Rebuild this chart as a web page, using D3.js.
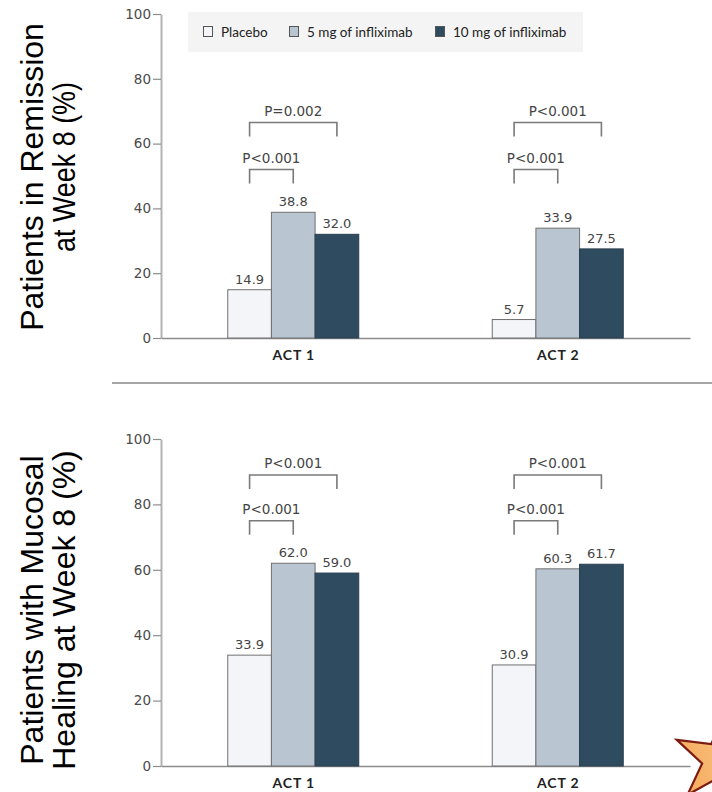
<!DOCTYPE html>
<html>
<head>
<meta charset="utf-8">
<script src="https://cdn.jsdelivr.net/npm/d3@7"></script>
<style>
  html, body { margin: 0; padding: 0; background: #fff; }
  svg { display: block; }
</style>
</head>
<body>
<svg id="chart" width="712" height="792"></svg>
<script>
// Infliximab ACT 1 / ACT 2 - remission and mucosal healing at week 8

const groups = ['ACT 1', 'ACT 2'];
const series = ['Placebo', '5 mg of infliximab', '10 mg of infliximab'];
const colors = ['#f3f5f8', '#b9c6d2', '#2f4b5f'];
const strokes = ['#707070', '#707070', '#2a3f4f'];
const yTicks = [0, 20, 40, 60, 80, 100];

// values per group: [placebo, 5 mg, 10 mg]
const remission = [[14.9, 38.8, 32.0], [5.7, 33.9, 27.5]];
const healing = [[33.9, 62.0, 59.0], [30.9, 60.3, 61.7]];

// p-values per group: [placebo vs 5 mg, placebo vs 10 mg]
const remissionP = [['P<0.001', 'P=0.002'], ['P<0.001', 'P<0.001']];
const healingP = [['P<0.001', 'P<0.001'], ['P<0.001', 'P<0.001']];

const svg = d3.select('#chart');

// layout per panel; titleLen squeezes a title line where the original was condensed
const panels = [
  { values: remission, pvals: remissionP, top: 14, bottom: 338, bracketAt: [52, 66.5],
    title: ['Patients in Remission', 'at Week 8 (%)'], titleY: [177, 167], titleLen: [null, 170] },
  { values: healing, pvals: healingP, top: 439, bottom: 766, bracketAt: [75, 89],
    title: ['Patients with Mucosal', 'Healing at Week 8 (%)'], titleY: [610, 610], titleLen: [null, null] }
];

const x0 = d3.scalePoint().domain(groups).range([161, 690]).padding(0.5);
const x1 = d3.scaleBand().domain(series).range([-65.5, 65.5]);
const barCenter = (g, s) => x0(g) + x1(s) + x1.bandwidth() / 2;

const tickFont = '"DejaVu Sans", Verdana, sans-serif';

panels.forEach(p => {
  const y = d3.scaleLinear().domain([0, 100]).range([p.bottom, p.top]);
  const g = svg.append('g');

  // y axis
  const ya = g.append('g').attr('transform', 'translate(161,0)')
    .call(d3.axisLeft(y).tickValues(yTicks).tickSize(8).tickSizeOuter(0).tickPadding(2));
  ya.select('.domain').attr('stroke', '#b3b3b3').attr('stroke-width', 2);
  ya.selectAll('.tick line').attr('stroke', '#8c8c8c').attr('stroke-width', 1.2);
  ya.selectAll('.tick text').attr('fill', '#4a4a4a').style('font-family', tickFont).style('font-size', '13.5px');

  // baseline + group labels
  const xa = g.append('g').attr('transform', `translate(0,${y(0)})`)
    .call(d3.axisBottom(x0).tickSize(0).tickPadding(12));
  xa.select('.domain').attr('stroke', '#8c8c8c').attr('stroke-width', 1.5);
  xa.selectAll('.tick text').attr('fill', '#222')
    .style('font-family', 'Lato, sans-serif').style('font-weight', 700)
    .style('font-size', '14px').style('letter-spacing', '0.9px');

  const rows = groups.map((grp, i) => ({ grp, vals: p.values[i], ps: p.pvals[i] }));

  const grpG = g.selectAll('g.grp').data(rows).join('g').attr('class', 'grp');

  grpG.selectAll('rect').data(d => d.vals.map((v, j) => ({ grp: d.grp, s: series[j], v, j })))
    .join('rect')
    .attr('x', d => x0(d.grp) + x1(d.s))
    .attr('y', d => y(d.v))
    .attr('width', x1.bandwidth())
    .attr('height', d => y(0) - y(d.v))
    .attr('fill', d => colors[d.j])
    .attr('stroke', d => strokes[d.j])
    .attr('stroke-width', 1);

  grpG.selectAll('text.val').data(d => d.vals.map((v, j) => ({ grp: d.grp, s: series[j], v })))
    .join('text').attr('class', 'val')
    .attr('x', d => barCenter(d.grp, d.s))
    .attr('y', d => y(d.v) - 6)
    .attr('text-anchor', 'middle')
    .attr('fill', '#444')
    .style('font-family', tickFont).style('font-size', '13px')
    .text(d => d.v.toFixed(1));

  // significance brackets: placebo vs 5 mg (lower), placebo vs 10 mg (upper)
  const brackets = [];
  rows.forEach(r => {
    r.ps.forEach((label, k) => {
      brackets.push({ x1: barCenter(r.grp, series[0]), x2: barCenter(r.grp, series[k + 1]),
        yv: p.bracketAt[k], label });
    });
  });
  const br = g.selectAll('g.br').data(brackets).join('g').attr('class', 'br');
  br.append('path')
    .attr('d', d => {
      const yy = y(d.yv);
      return `M${d.x1},${yy + 14}V${yy}H${d.x2}V${yy + 14}`;
    })
    .attr('fill', 'none').attr('stroke', '#7a7a7a').attr('stroke-width', 1.6);
  br.append('text')
    .attr('x', d => (d.x1 + d.x2) / 2)
    .attr('y', d => y(d.yv) - 7)
    .attr('text-anchor', 'middle')
    .attr('fill', '#444')
    .style('font-family', tickFont).style('font-size', '13.5px')
    .text(d => d.label);

  // rotated y title, two lines
  p.title.forEach((line, i) => {
    const t = svg.append('text')
      .attr('transform', `translate(${43 + i * 32},${p.titleY[i]}) rotate(-90)`)
      .attr('text-anchor', 'middle')
      .attr('fill', '#000')
      .style('font-family', '"Liberation Sans", Arial, sans-serif')
      .style('font-size', '32px')
      .text(line);
    if (p.titleLen[i]) t.attr('textLength', p.titleLen[i]).attr('lengthAdjust', 'spacingAndGlyphs');
  });
});

// legend
const leg = svg.append('g');
leg.append('rect').attr('x', 188).attr('y', 12).attr('width', 395).attr('height', 40).attr('fill', '#f4f4f4');
const legX = [203, 289, 435];
const li = leg.selectAll('g.li').data(series).join('g').attr('class', 'li')
  .attr('transform', (d, i) => `translate(${legX[i]},32)`);
li.append('rect').attr('x', 0.5).attr('y', -5.5).attr('width', 9).attr('height', 10)
  .attr('fill', (d, i) => colors[i]).attr('stroke', '#555').attr('stroke-width', 1);
li.append('text').attr('x', 18).attr('y', 4.5)
  .attr('fill', '#222')
  .style('font-family', 'Lato, sans-serif').style('font-size', '13.5px')
  .text(d => d);

// divider between panels
svg.append('line').attr('x1', 112).attr('x2', 712).attr('y1', 383).attr('y2', 383)
  .attr('stroke', '#a6a6a6').attr('stroke-width', 2);

// decorative star, bottom right corner
const defs = svg.append('defs');
const grad = defs.append('linearGradient').attr('id', 'starGrad')
  .attr('x1', '0%').attr('y1', '0%').attr('x2', '100%').attr('y2', '100%');
grad.append('stop').attr('offset', '0%').attr('stop-color', '#f4a04a');
grad.append('stop').attr('offset', '100%').attr('stop-color', '#fbd3a0');
svg.append('path')
  .attr('d', d3.symbol(d3.symbolStar, 2544)())
  .attr('transform', 'translate(720,760) rotate(-65)')
  .attr('fill', 'url(#starGrad)')
  .attr('stroke', '#7b1c12').attr('stroke-width', 2.2).attr('stroke-linejoin', 'miter');
</script>
</body>
</html>
